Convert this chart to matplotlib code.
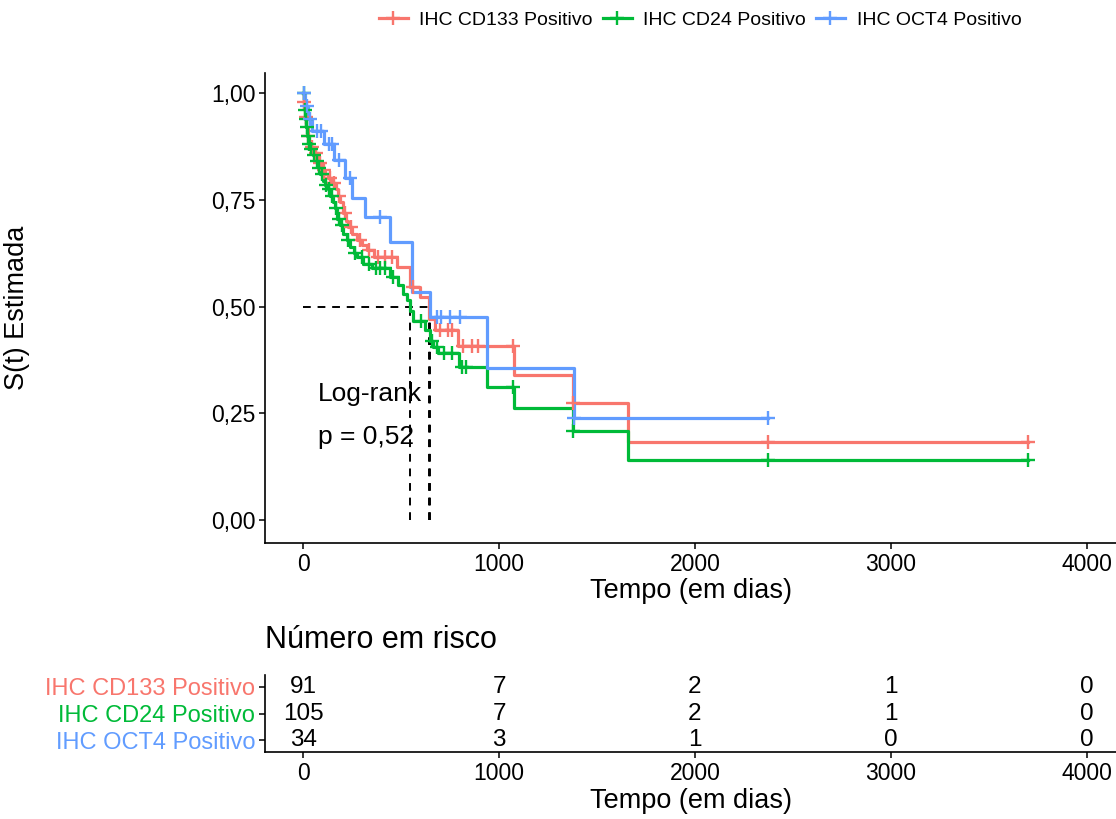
import numpy as np
import matplotlib
matplotlib.use("Agg")
import matplotlib.pyplot as plt
from matplotlib.lines import Line2D
from matplotlib.ticker import FuncFormatter

plt.rcParams["font.family"] = ["Liberation Sans", "DejaVu Sans"]

# groups
groups = ["IHC CD133 Positivo", "IHC CD24 Positivo", "IHC OCT4 Positivo"]
colors = ["#F8766D", "#00BA38", "#619CFF"]

# Kaplan-Meier steps (event time, survival after the event)
cd133_t = [2, 5, 10, 15, 22, 30, 40, 55, 77, 95, 112, 125, 148, 165, 179, 190,
           205, 218, 230, 250, 276, 300, 327, 360, 481, 547, 598, 640, 675, 790,
           1074, 1376, 1657]
cd133_s = [0.98, 0.965, 0.945, 0.92, 0.90, 0.885, 0.873, 0.86, 0.835, 0.82, 0.81,
           0.80, 0.79, 0.775, 0.76, 0.745, 0.72, 0.70, 0.686, 0.67, 0.656, 0.645,
           0.632, 0.616, 0.593, 0.546, 0.522, 0.47, 0.445, 0.407, 0.34, 0.274, 0.183]
cd133_cens = [4, 12, 25, 45, 65, 85, 105, 135, 155, 185, 215, 245, 290, 335, 380,
              420, 455, 560, 700, 740, 760, 818, 864, 895, 1070, 1376, 2373, 3703]

cd24_t = [3, 7, 10, 15, 20, 28, 36, 48, 61, 74, 87, 100, 112, 125, 138, 150, 160,
          174, 190, 205, 222, 240, 258, 276, 307, 350, 445, 486, 510, 532, 547,
          563, 624, 650, 665, 690, 793, 941, 1074, 1376, 1657]
cd24_s = [0.98, 0.96, 0.94, 0.92, 0.90, 0.88, 0.87, 0.855, 0.84, 0.825, 0.81, 0.795,
          0.785, 0.775, 0.76, 0.745, 0.73, 0.705, 0.69, 0.67, 0.655, 0.64, 0.625,
          0.615, 0.60, 0.59, 0.57, 0.55, 0.53, 0.515, 0.49, 0.465, 0.445, 0.42,
          0.405, 0.39, 0.358, 0.312, 0.262, 0.209, 0.14]
cd24_cens = [2, 8, 12, 18, 25, 32, 42, 55, 68, 80, 95, 118, 130, 145, 168, 182,
             198, 230, 265, 300, 335, 370, 390, 420, 460, 600, 660, 685, 720, 760,
             813, 830, 1070, 1376, 2373, 3703]

oct4_t = [8, 25, 46, 108, 158, 215, 250, 317, 445, 557, 645, 941, 1381]
oct4_s = [0.97, 0.94, 0.91, 0.88, 0.843, 0.80, 0.754, 0.71, 0.65, 0.534, 0.475,
          0.356, 0.239]
oct4_cens = [3, 18, 35, 70, 90, 130, 145, 185, 240, 390, 685, 705, 750, 800,
             1381, 2373]

medians = [640, 547, 645]

# number at risk
risk_times = [0, 1000, 2000, 3000, 4000]
risk_cd133 = [91, 7, 2, 1, 0]
risk_cd24 = [105, 7, 2, 1, 0]
risk_oct4 = [34, 3, 1, 0, 0]

curves = [(cd133_t, cd133_s, cd133_cens),
          (cd24_t, cd24_s, cd24_cens),
          (oct4_t, oct4_s, oct4_cens)]
risks = [risk_cd133, risk_cd24, risk_oct4]

W, H = 1116, 819
fig = plt.figure(figsize=(W / 100, H / 100), dpi=100)

ax = fig.add_axes([265 / W, 1 - 543 / H, 1 - 265 / W, (543 - 73) / H])
tab = fig.add_axes([265 / W, 1 - 752 / H, 1 - 265 / W, (752 - 675) / H])

xlim = (-195, 4150)
dash = (0, (4, 3.5))

for (t, s, cens), col in zip(curves, colors):
    t = np.asarray(t, float)
    s = np.asarray(s, float)
    xs = np.concatenate([[0], t, [max(cens)]])
    ys = np.concatenate([[1.0], s, [s[-1]]])
    ax.step(xs, ys, where="post", color=col, lw=2.3, zorder=3)
    # censor marks sit on the curve
    idx = np.searchsorted(t, cens, side="right")
    cy = np.where(idx == 0, 1.0, s[np.maximum(idx - 1, 0)])
    ax.plot(cens, cy, ls="none", marker="+", ms=9.5, mew=1.7, color=col, zorder=4)

# median survival lines
ax.plot([0, max(medians)], [0.5, 0.5], color="black", ls=dash, lw=1.4, zorder=2)
for m in medians:
    ax.plot([m, m], [0, 0.5], color="black", ls=dash, lw=1.4, zorder=2)

ax.text(77, 0.295, "Log-rank", fontsize=19, va="center", ha="left")
ax.text(77, 0.195, "p = 0,52", fontsize=19, va="center", ha="left")

ax.set_xlim(xlim)
ax.set_ylim(-0.054, 1.047)
ax.set_xticks(risk_times)
ax.set_yticks([0, 0.25, 0.5, 0.75, 1.0])
ax.yaxis.set_major_formatter(FuncFormatter(lambda v, p: f"{v:.2f}".replace(".", ",")))
ax.set_xlabel("Tempo (em dias)", fontsize=19.5, labelpad=2)
ax.set_ylabel("S(t) Estimada", fontsize=19.5)
ax.yaxis.set_label_coords(-0.276, 0.5)

for a in (ax, tab):
    for sp in ("top", "right"):
        a.spines[sp].set_visible(False)
    for sp in ("left", "bottom"):
        a.spines[sp].set_linewidth(1.2)
    a.tick_params(direction="out", length=4, width=1.1, labelsize=16.5,
                  colors="black", pad=3)

# risk table
rows = [3, 2, 1]
for r, vals in zip(rows, risks):
    for x, v in zip(risk_times, vals):
        tab.text(x, r, str(v), ha="center", va="center", fontsize=17.5)
tab.set_xlim(xlim)
tab.set_ylim(0.55, 3.45)
tab.set_xticks(risk_times)
tab.set_yticks(rows)
tab.set_yticklabels(groups, fontsize=17)
for lab, col in zip(tab.get_yticklabels(), colors):
    lab.set_color(col)
tab.set_xlabel("Tempo (em dias)", fontsize=19.5, labelpad=2)
fig.text(265 / W, 1 - 640 / H, "Número em risco", fontsize=22, ha="left", va="center")

handles = [Line2D([], [], color=c, lw=2.3, marker="+", ms=9.5, mew=1.7) for c in colors]
fig.legend(handles, groups, loc="center", bbox_to_anchor=(700 / W, 1 - 20 / H),
           ncol=3, frameon=False, fontsize=14, handlelength=1.5,
           columnspacing=0.5, handletextpad=0.6)

fig.savefig("out.png", dpi=100)
